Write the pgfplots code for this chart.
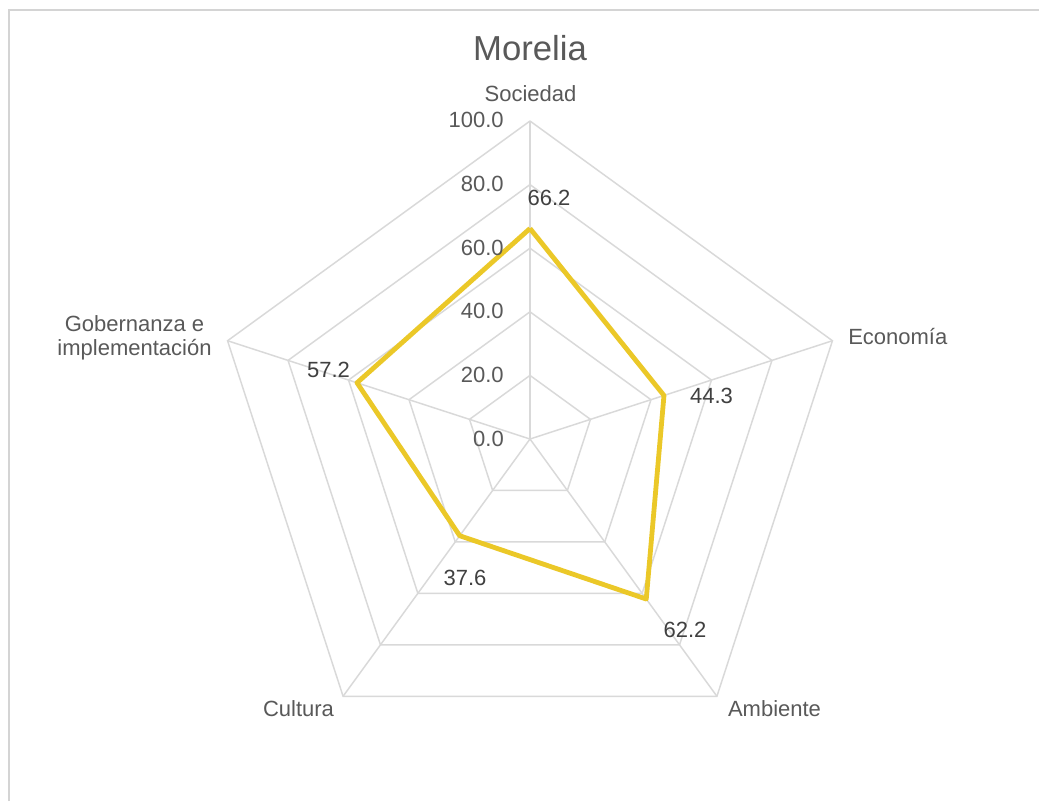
\documentclass[border=0pt]{standalone}
\usepackage{pgfplots}
\pgfplotsset{compat=1.18}
\usepgfplotslibrary{polar}
\usepackage{fontspec}
\setmainfont{Liberation Sans}
\definecolor{gridc}{HTML}{D9D9D9}
\definecolor{serc}{HTML}{EBC828}
\definecolor{labc}{HTML}{595959}
\definecolor{datc}{HTML}{404040}
\definecolor{bordc}{HTML}{D4D4D4}
\begin{document}
\begin{tikzpicture}[x=0.75pt,y=-0.75pt]
\useasboundingbox[fill=white] (0,0) rectangle (1039,801);
\coordinate (C) at (530,439);
\begin{polaraxis}[
  at={(C)}, anchor=center,
  scale only axis, width=477pt, height=477pt,
  xmin=0, xmax=360, ymin=0, ymax=100,
  hide axis, clip=false,
]
% grid pentagons
\addplot[gridc, line width=1.1pt, no markers] coordinates {(90,20) (18,20) (306,20) (234,20) (162,20) (90,20)};
\addplot[gridc, line width=1.1pt, no markers] coordinates {(90,40) (18,40) (306,40) (234,40) (162,40) (90,40)};
\addplot[gridc, line width=1.1pt, no markers] coordinates {(90,60) (18,60) (306,60) (234,60) (162,60) (90,60)};
\addplot[gridc, line width=1.1pt, no markers] coordinates {(90,80) (18,80) (306,80) (234,80) (162,80) (90,80)};
\addplot[gridc, line width=1.1pt, no markers] coordinates {(90,100) (18,100) (306,100) (234,100) (162,100) (90,100)};
% spokes
\addplot[gridc, line width=1.1pt, no markers] coordinates {(90,0) (90,100)};
\addplot[gridc, line width=1.1pt, no markers] coordinates {(18,0) (18,100)};
\addplot[gridc, line width=1.1pt, no markers] coordinates {(306,0) (306,100)};
\addplot[gridc, line width=1.1pt, no markers] coordinates {(234,0) (234,100)};
\addplot[gridc, line width=1.1pt, no markers] coordinates {(162,0) (162,100)};
% series
\addplot[serc, line width=3.6pt, line join=round, no markers] coordinates {(90,66.2) (18,44.3) (306,62.2) (234,37.6) (162,57.2) (90,66.2)};
\end{polaraxis}
% border
\draw[bordc, line width=1.5pt] (8.5,801) -- (8.5,9.5) -- (1039,9.5);
% title
\node[anchor=base, inner sep=0, text=labc, font=\fontsize{26}{30}\selectfont] at (530,60.7) {Morelia};
% category labels
\begin{scope}[every node/.style={inner sep=0, text=labc, font=\fontsize{16.5}{20}\selectfont}]
\node[anchor=base] at (530.5,101) {Sociedad};
\node[anchor=base west] at (848,344) {Economía};
\node[anchor=base] at (774.5,716) {Ambiente};
\node[anchor=base] at (298.5,716) {Cultura};
\node[anchor=base] at (134.5,331.7) {Gobernanza e};
\node[anchor=base] at (134.5,355.5) {implementación};
% tick labels
\node[anchor=base east] at (504,446) {0.0};
\node[anchor=base east] at (504,382.4) {20.0};
\node[anchor=base east] at (504,318.8) {40.0};
\node[anchor=base east] at (504,255.2) {60.0};
\node[anchor=base east] at (504,191.6) {80.0};
\node[anchor=base east] at (504,127.5) {100.0};
\end{scope}
% data labels
\begin{scope}[every node/.style={inner sep=0, text=datc, font=\fontsize{16.5}{20}\selectfont}]
\node[anchor=base] at (549,205) {66.2};
\node[anchor=base] at (711.5,403) {44.3};
\node[anchor=base] at (685,637) {62.2};
\node[anchor=base] at (465,585) {37.6};
\node[anchor=base] at (328.5,377) {57.2};
\end{scope}
\end{tikzpicture}
\end{document}
